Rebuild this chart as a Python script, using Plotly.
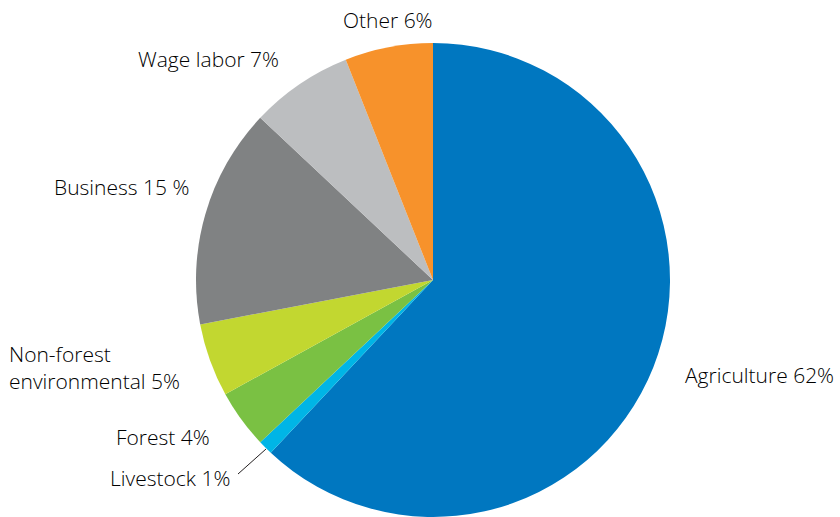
import plotly.graph_objects as go

# Income sources, clockwise from 12 o'clock
sources = ["Agriculture", "Livestock", "Forest", "Non-forest environmental",
           "Business", "Wage labor", "Other"]
shares = [62, 1, 4, 5, 15, 7, 6]
label_text = ["Agriculture 62%", "Livestock 1%", "Forest 4%",
              "Non-forest<br>environmental 5%", "Business 15 %",
              "Wage labor 7%", "Other 6%"]
colors = ["#0077C0", "#00B5E6", "#7AC143", "#C2D730",
          "#808283", "#BCBEC0", "#F7922B"]

W, H = 840, 517
cx, cy, r = 433, 280, 237  # pie centre / radius in pixels

fig = go.Figure(go.Pie(
    labels=sources,
    values=shares,
    sort=False,
    direction="clockwise",
    rotation=0,
    marker=dict(colors=colors, line=dict(width=0)),
    textinfo="none",
    hoverinfo="label+percent",
    showlegend=False,
    domain=dict(x=[(cx - r) / W, (cx + r) / W],
                y=[(H - cy - r) / H, (H - cy + r) / H]),
))

def px(x):
    return x / W

def py(y):
    return 1 - y / H

# label anchor points (pixels) and alignment
label_pos = [
    (683, 375, "left"),
    (232, 478, "right"),
    (212, 437, "right"),
    (7, 367, "left"),
    (191, 187, "right"),
    (281, 59, "right"),
    (435, 20, "right"),
]

annotations = []
for txt, (x, y, anchor) in zip(label_text, label_pos):
    annotations.append(dict(
        x=px(x), y=py(y), xref="paper", yref="paper",
        text=txt, showarrow=False, xanchor=anchor, yanchor="middle",
        align="left",
        font=dict(family="Open Sans", size=21, color="#000000", weight=300),
    ))

fig.update_layout(
    width=W, height=H,
    margin=dict(l=0, r=0, t=0, b=0),
    paper_bgcolor="white",
    plot_bgcolor="white",
    annotations=annotations,
    shapes=[dict(type="line", xref="paper", yref="paper",
                 x0=px(266), y0=py(449), x1=px(238), y1=py(474),
                 line=dict(color="#231F20", width=1))],
)

fig.write_html("out.html")
